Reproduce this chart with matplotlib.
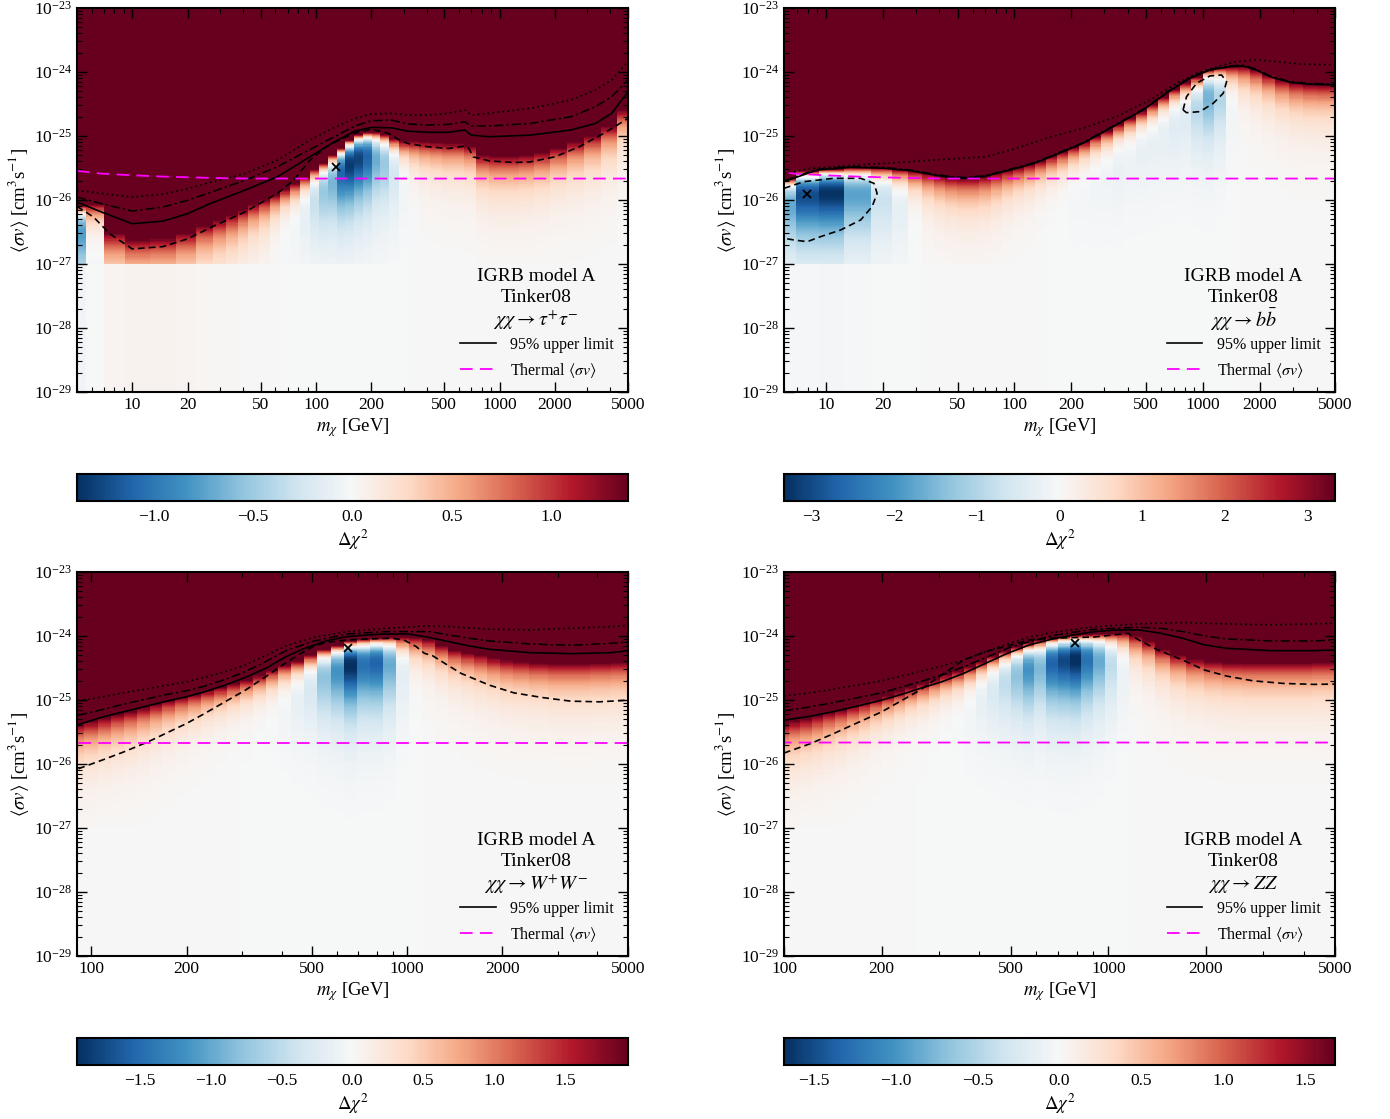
"""
Delta chi^2 maps for the IGRB cross-correlation fit, four annihilation channels
"""

import numpy as np
import matplotlib
matplotlib.use("Agg")
import matplotlib.pyplot as plt
from matplotlib.lines import Line2D
from matplotlib.ticker import (FixedLocator, FixedFormatter, FuncFormatter,
                               LogLocator, NullFormatter)

plt.rcParams['font.family'] = ['Liberation Serif', 'DejaVu Serif']
plt.rcParams['mathtext.fontset'] = 'stix'

SV_UNIT = 1e-26  # every cross section below is in units of 1e-26 cm^3 s^-1

# thermal relic cross section
thermal_m = [5, 6.8, 10, 14.7, 20, 27, 41, 5000]
thermal_sv = [2.85, 2.58, 2.43, 2.32, 2.26, 2.21, 2.16, 2.16]

# ---------------- tau+ tau- ----------------
tau_vmax = 1.385
tau_mass = [5.0, 6.2, 8.0, 10.5, 15, 20, 25, 30, 35, 40, 46, 52, 60, 68, 77, 87, 98,
            110, 123, 137, 153, 170, 190, 212, 237, 265, 300, 340, 390, 450, 520, 600,
            690, 800, 950, 1150, 1400, 1700, 2100, 2600, 3200, 4000, 4800]
tau_top = [0.80, 0.85, 0.30, 0.24, 0.25, 0.30, 0.40, 0.48, 0.58, 0.70, 0.85, 1.0, 1.2,
           1.45, 1.8, 2.3, 3.0, 3.8, 5.0, 6.5, 8.5, 10.5, 11.5, 11.5, 10.5, 9.0, 8.2, 8.2,
           8.0, 7.8, 7.6, 7.6, 7.0, 5.0, 4.8, 4.8, 5.0, 5.5, 6.5, 8.0, 10, 14, 25]
tau_best = [0.30, 0.08, -0.5, -0.5, -0.5, -0.5, -0.5, -0.5, -0.5, -0.4, -0.3, -0.2, 0.0,
            0.15, 0.25, 0.5, 0.9, 1.3, 1.8, 2.6, 3.5, 4.3, 4.6, 4.2, 3.6, 2.5, 1.2, 0.0,
            -1.0, -1.5, -2.0, -2.0, -2.0, -3.0, -4.0, -4.0, -4.0, -4.0, -4.0, -5.0, -6.0,
            -8.0, -10.0]
tau_line_m = [5.0, 6.8, 10, 14.7, 20, 27, 41, 61.5, 92.6, 126, 163, 200, 258, 316, 408,
              527, 647, 699, 880, 1470, 2450, 3330, 4080, 5000]
tau_solid_sv = [0.929, 0.648, 0.425, 0.468, 0.610, 0.896, 1.42, 2.29, 4.72, 8.11, 11.9,
                13.6, 13.4, 11.9, 11.4, 11.4, 12.4, 10.3, 9.72, 10.3, 12.4, 15.7, 22.6, 49.3]
tau_dashdot_sv = [1.11, 0.875, 0.671, 0.776, 0.987, 1.33, 2.03, 3.29, 6.15, 9.72, 14.3,
                  17.3, 17.7, 15.4, 14.8, 15.2, 16.7, 14.3, 14.3, 15.7, 20.0, 28.7, 41.2, 75.2]
tau_dotted_sv = [1.42, 1.26, 1.11, 1.23, 1.50, 1.91, 2.58, 4.18, 8.61, 13.6, 18.8, 22.0,
                 22.6, 21.2, 21.2, 22.6, 25.4, 21.2, 22.6, 27.0, 36.5, 52.4, 75.2, 146]
tau_dashed_m = [5.0, 6.15, 7.55, 10, 14.7, 20, 27, 41, 61.5, 75.5, 92.6, 114, 139, 171,
                200, 245, 286, 316, 408, 527, 647, 681, 717, 880, 1200, 1470, 2000, 2710,
                3690, 5000]
tau_dashed_sv = [0.795, 0.541, 0.296, 0.172, 0.187, 0.247, 0.377, 0.648, 1.26, 2.03, 4.18,
                 6.77, 9.15, 11.6, 12.7, 11.2, 8.61, 7.64, 6.77, 6.38, 6.94, 6.38, 4.72,
                 4.08, 3.85, 3.94, 4.72, 6.77, 11.0, 18.8]
tau_bestfit = (129, 3.3)

# ---------------- b bbar ----------------
bb_vmax = 3.33
bb_mass = [6.0, 8.0, 10.5, 15, 20, 25, 30, 35, 40, 46, 53, 60, 70, 80, 92, 105, 120, 138,
           158, 180, 205, 235, 270, 310, 355, 410, 470, 540, 620, 710, 810, 930, 1070,
           1230, 1420, 1650, 1900, 2200, 2600, 3100, 3700, 4400]
bb_top = [2.2, 2.8, 3.0, 3.2, 3.2, 3.0, 2.8, 2.6, 2.4, 2.25, 2.2, 2.2, 2.35, 2.6, 2.9,
          3.2, 3.6, 4.1, 4.8, 5.6, 6.7, 8.0, 9.8, 12, 15, 19, 24, 31, 41, 53, 68, 82,
          108, 118, 122, 122, 108, 90, 76, 68, 64, 63]
bb_best = [0.81, 1.14, 1.24, 1.19, 0.95, 0.67, 0.2, -0.3, -0.6, -0.8, -1.0, -1.0, -1.0,
           -0.8, -0.5, -0.3, -0.2, 0.0, 0.2, 0.4, 0.8, 1.0, 1.5, 2.0, 3.0, 3.5, 5.0, 6.5,
           9.0, 13, 17, 26, 39, 38, 18, -5, -15, -20, -25, -30, -30, -30]
bb_line_m = [6.0, 9.0, 13.5, 20.3, 28, 37.4, 45.8, 54, 68.9, 103, 127, 154, 231, 347,
             481, 639, 850, 1086, 1385, 1630, 1918, 2256, 2878, 3672, 5000]
bb_solid_sv = [1.93, 2.94, 3.24, 3.13, 2.87, 2.46, 2.26, 2.18, 2.32, 3.13, 3.74, 4.65,
               7.69, 14.9, 25.5, 46.5, 79.8, 107, 121, 124, 107, 84.5, 69.0, 64.3, 62.7]
bb_dashdot_sv = [2.0, 3.02, 3.33, 3.22, 2.95, 2.53, 2.33, 2.25, 2.39, 3.22, 3.85, 4.79,
                 7.9, 15.3, 26.2, 47.8, 82, 110, 124.5, 127.7, 110.5, 87, 71, 66.2, 64.5]
bb_dotted_m = [6.0, 8.2, 14, 24, 41.2, 70.5, 100, 154, 231, 347, 522, 723, 922, 1177,
               1503, 1918, 2447, 3252, 5000]
bb_dotted_sv = [2.58, 3.10, 3.49, 3.85, 4.29, 4.72, 6.3, 9.55, 13.2, 20.0, 36.3, 66.1,
                95.5, 120, 145, 155, 145, 133, 129]
bb_dashed_low_m = [6.0, 7.66, 11.0, 15.3, 18.0, 18.7, 17.6, 15.3, 12.0, 9.37, 7.97, 6.78, 6.0]
bb_dashed_low_sv = [1.52, 1.93, 2.18, 2.18, 1.82, 1.27, 0.787, 0.487, 0.340, 0.267,
                    0.223, 0.237, 0.252]
bb_dashed_high_m = [783, 817, 923, 1086, 1253, 1332, 1279, 1132, 962, 817, 783]
bb_dashed_high_sv = [25.5, 41.1, 66.5, 86.6, 89.7, 70.5, 46.5, 32.4, 24.0, 23.1, 25.5]
bb_bestfit = (7.97, 1.23)

# ---------------- W+ W- ----------------
ww_vmax = 1.94
ww_mass = [90, 100, 110, 121, 133, 146, 160, 176, 193, 212, 233, 256, 281, 309, 340, 373,
           410, 450, 495, 545, 600, 660, 725, 800, 880, 965, 1060, 1165, 1280, 1410, 1550,
           1700, 1870, 2060, 2270, 2600, 3000, 3500, 4100, 4750]
ww_top = [4.2, 4.6, 5.2, 5.9, 6.6, 7.5, 8.5, 9.7, 11, 12.3, 14, 15.6, 17.8, 20.5, 24, 29,
          35, 41, 50, 62, 72, 82, 88, 92, 95, 96, 94, 86, 72, 60, 54, 50, 45, 42, 40, 38,
          37, 37, 38, 39]
ww_best = [-4, -4, -4, -4, -4, -3.5, -3, -2.5, -2, -1.5, -1, -0.5, 0, 0.5, 1.5, 2.5, 5,
           8.7, 13.5, 21.6, 27.4, 34, 34.8, 36.8, 34.8, 22, 3, -5, -10, -12, -15, -20,
           -20, -25, -25, -25, -30, -30, -30, -30]
ww_solid_m = [90.9, 108.7, 126.1, 146.2, 169.6, 199.7, 228.2, 264.7, 307, 356, 413, 465,
              508, 556, 645, 748, 867, 1006, 1167, 1353, 1570, 1821, 2450, 3296, 4436, 5000]
ww_solid_sv = [4.12, 5.43, 6.51, 7.80, 9.34, 11.2, 13.4, 17.0, 22.5, 31.1, 47.4, 61.8,
               72.3, 84.5, 97.6, 103.7, 107.5, 107.5, 95.3, 81.5, 69.7, 61.8, 54.8, 52.8,
               54.8, 58.9]
ww_dashdot_m = [90.9, 108.7, 126.1, 169.6, 199.7, 228.2, 264.7, 307, 356, 413, 508, 645,
                867, 1167, 1353, 1570, 1821, 2450, 3296, 4436, 5000]
ww_dashdot_sv = [5.77, 7.08, 8.58, 11.9, 13.9, 16.4, 20.9, 27.6, 39.6, 58.9, 83.5, 107.5,
                 116.9, 116.9, 103.7, 91.9, 83.5, 74.9, 71.4, 76.7, 81.5]
ww_dotted_m = [90.9, 108.7, 126.1, 169.6, 199.7, 228.2, 264.7, 307, 356, 413, 508, 645,
               867, 1167, 1353, 1821, 2450, 3296, 4436, 5000]
ww_dotted_sv = [9.68, 11.2, 12.9, 16.6, 19.2, 22.5, 27.6, 35.1, 49.2, 69.7, 95.3, 116.9,
                131.9, 143.5, 140, 127.2, 124.2, 131.9, 140, 147]
ww_dashed_m = [90.9, 108.7, 126.1, 150.6, 169.6, 199.7, 228.2, 264.7, 307, 356, 413, 465,
               508, 556, 645, 748, 893, 976, 1068, 1133, 1202, 1314, 1480, 1821, 2176,
               2679, 3296, 4057, 5000]
ww_dashed_sv = [0.841, 1.16, 1.53, 2.20, 2.91, 4.27, 6.13, 9.34, 14.2, 23.0, 38.2, 54.8,
                69.7, 79.6, 86.6, 89.7, 91.9, 86.6, 68.0, 53.5, 49.2, 37.3, 26.0, 17.0,
                12.9, 10.9, 9.57, 9.34, 9.92]
ww_bestfit = (648, 65)

# ---------------- Z Z ----------------
zz_vmax = 1.68
zz_mass = [100, 108, 117, 127, 138, 150, 163, 177, 192, 209, 227, 247, 268, 291, 316, 344,
           374, 406, 441, 480, 522, 567, 617, 670, 730, 793, 862, 937, 1020, 1110, 1210,
           1330, 1470, 1640, 1850, 2100, 2400, 2800, 3300, 3900, 4600]
zz_top = [4.2, 4.6, 5.0, 5.6, 6.3, 7.0, 8.0, 9.0, 10.3, 11.8, 13.5, 15.5, 18, 21, 24.5,
          28, 33, 40, 48, 58, 68, 77, 85, 92, 98, 102, 105, 108, 110, 112, 100, 82, 62,
          50, 43, 40, 38, 38, 38, 38, 39]
zz_best = [-4, -4, -4, -4, -3.5, -3, -2.5, -2, -1.5, -1, -0.5, 0, 0.3, 0.8, 1.5, 2.5,
           4.8, 8.5, 12.7, 17.9, 23.7, 29.3, 30.4, 36.8, 40, 42.3, 41.5, 39.6, 34, 21.2,
           -5, -12, -15, -18, -20, -25, -25, -30, -30, -30, -30]
zz_solid_m = [100, 120.5, 140.8, 164.6, 200.1, 231.7, 262.4, 306.5, 358.2, 418.4, 488.9,
              571.2, 667.3, 779.6, 910.9, 1064, 1243, 1453, 1697, 1983, 2317, 3162, 4316, 5000]
zz_solid_sv = [4.82, 5.57, 6.51, 7.80, 9.92, 12.3, 15.1, 19.2, 26.0, 37.3, 53.5, 72.3,
               88.7, 103.7, 116.9, 124.2, 124.2, 110.1, 91.9, 72.3, 64.1, 58.9, 58.9, 60.3]
zz_dashdot_m = [100, 120.5, 140.8, 200.1, 262.4, 306.5, 358.2, 418.4, 488.9, 571.2, 667.3,
                779.6, 910.9, 1243, 1453, 1697, 1983, 2317, 3162, 4316, 5000]
zz_dashdot_sv = [6.75, 7.80, 9.01, 12.9, 19.2, 24.5, 33.0, 45.7, 64.1, 81.5, 100, 114.2,
                 127.2, 136.8, 131.9, 116.9, 100, 89.7, 83.5, 83.5, 86.6]
zz_dotted_m = [100, 120.5, 140.8, 200.1, 262.4, 306.5, 358.2, 418.4, 488.9, 571.2, 667.3,
               910.9, 1243, 1697, 2317, 3162, 4316, 5000]
zz_dotted_sv = [11.5, 12.9, 14.6, 19.9, 27.6, 33.8, 42.0, 56.8, 74.9, 95.3, 112.8, 140,
                154.2, 161.9, 154.2, 148.8, 154.2, 158]
zz_dashed_m = [100, 120.5, 140.8, 164.6, 200.1, 231.7, 262.4, 306.5, 358.2, 418.4, 488.9,
               571.2, 667.3, 779.6, 910.9, 1150, 1243, 1408, 1697, 1983, 2317, 2793, 3472,
               4316, 5000]
zz_dashed_sv = [1.48, 2.07, 2.91, 4.17, 6.51, 9.92, 14.2, 24.5, 42.0, 56.8, 69.7, 86.6,
                91.9, 94.2, 96.5, 110.1, 86.6, 61.8, 42.0, 29.3, 23.6, 19.9, 18.1, 17.5, 17.7]
zz_bestfit = (792, 77)

# cross-section grid: one coarse cell below 1e-27, fine above
SV_EDGES = np.concatenate([[1e-29], np.geomspace(1e-27, 1e-23, 241)])

LINE_STYLES = {
    'solid': dict(ls='-', lw=1.2),
    'dashdot': dict(ls=(0, (6, 2, 1.5, 2)), lw=1.1),
    'dotted': dict(ls=(0, (1, 2)), lw=1.2),
    'dashed': dict(ls=(0, (4, 2.5)), lw=1.2),
}
THERMAL_STYLE = dict(color='#ff00ff', ls=(0, (7, 4)), lw=1.3)

MASS_TICKS_LOW = [10, 20, 50, 100, 200, 500, 1000, 2000, 5000]
MASS_TICKS_HIGH = [100, 200, 500, 1000, 2000, 5000]

PANELS = [
    dict(rect=[0.0554, 0.6497, 0.3964, 0.3432], crect=[0.0554, 0.5523, 0.3964, 0.0241],
         xlim=(5, 5000), xticks=MASS_TICKS_LOW, vmax=tau_vmax,
         mass=tau_mass, top=tau_top, best=tau_best, bestfit=tau_bestfit,
         channel=r'$\chi\chi \rightarrow \tau^{+}\tau^{-}$',
         cticks=[-1.0, -0.5, 0.0, 0.5, 1.0], cfmt='{:.1f}',
         lines=[(tau_line_m, tau_dotted_sv, 'dotted'), (tau_line_m, tau_dashdot_sv, 'dashdot'),
                (tau_line_m, tau_solid_sv, 'solid'), (tau_dashed_m, tau_dashed_sv, 'dashed')]),
    dict(rect=[0.5640, 0.6497, 0.3964, 0.3432], crect=[0.5640, 0.5523, 0.3964, 0.0241],
         xlim=(6, 5000), xticks=MASS_TICKS_LOW, vmax=bb_vmax,
         mass=bb_mass, top=bb_top, best=bb_best, bestfit=bb_bestfit,
         channel=r'$\chi\chi \rightarrow b\bar{b}$',
         cticks=[-3, -2, -1, 0, 1, 2, 3], cfmt='{:.0f}',
         lines=[(bb_dotted_m, bb_dotted_sv, 'dotted'), (bb_line_m, bb_dashdot_sv, 'dashdot'),
                (bb_line_m, bb_solid_sv, 'solid'),
                (bb_dashed_low_m, bb_dashed_low_sv, 'dashed'),
                (bb_dashed_high_m, bb_dashed_high_sv, 'dashed')]),
    dict(rect=[0.0554, 0.1457, 0.3964, 0.3432], crect=[0.0554, 0.0483, 0.3964, 0.0241],
         xlim=(90, 5000), xticks=MASS_TICKS_HIGH, vmax=ww_vmax,
         mass=ww_mass, top=ww_top, best=ww_best, bestfit=ww_bestfit,
         channel=r'$\chi\chi \rightarrow W^{+}W^{-}$',
         cticks=[-1.5, -1.0, -0.5, 0.0, 0.5, 1.0, 1.5], cfmt='{:.1f}',
         lines=[(ww_dotted_m, ww_dotted_sv, 'dotted'), (ww_dashdot_m, ww_dashdot_sv, 'dashdot'),
                (ww_solid_m, ww_solid_sv, 'solid'), (ww_dashed_m, ww_dashed_sv, 'dashed')]),
    dict(rect=[0.5640, 0.1457, 0.3964, 0.3432], crect=[0.5640, 0.0483, 0.3964, 0.0241],
         xlim=(100, 5000), xticks=MASS_TICKS_HIGH, vmax=zz_vmax,
         mass=zz_mass, top=zz_top, best=zz_best, bestfit=zz_bestfit,
         channel=r'$\chi\chi \rightarrow ZZ$',
         cticks=[-1.5, -1.0, -0.5, 0.0, 0.5, 1.0, 1.5], cfmt='{:.1f}',
         lines=[(zz_dotted_m, zz_dotted_sv, 'dotted'), (zz_dashdot_m, zz_dashdot_sv, 'dashdot'),
                (zz_solid_m, zz_solid_sv, 'solid'), (zz_dashed_m, zz_dashed_sv, 'dashed')]),
]


def delta_chi2_map(mass, top, best, vmax, xlim):
    """Quadratic profile in <sigma v> for each mass column.

    'top' is where the column reaches the colour-bar maximum, 'best' the
    best-fit cross section of that column (negative = no preference).
    """
    mass = np.asarray(mass, float)
    top = np.asarray(top, float)
    best = np.asarray(best, float)
    x_edges = np.concatenate([[xlim[0]], np.sqrt(mass[:-1] * mass[1:]), [xlim[1]]])
    sv = (np.sqrt(SV_EDGES[:-1] * SV_EDGES[1:]) / SV_UNIT)[:, None]
    w2 = (top ** 2 - 2 * top * best) / vmax
    return x_edges, (sv ** 2 - 2 * sv * best) / w2


def draw_panel(fig, p):
    ax = fig.add_axes(p['rect'])
    vmax = p['vmax']
    x_edges, dchi2 = delta_chi2_map(p['mass'], p['top'], p['best'], vmax, p['xlim'])
    mesh = ax.pcolormesh(x_edges, SV_EDGES, dchi2, cmap='RdBu_r',
                         vmin=-vmax, vmax=vmax, shading='flat')

    for m, s, style in p['lines']:
        ax.plot(m, np.asarray(s) * SV_UNIT, color='k', **LINE_STYLES[style])
    ax.plot(thermal_m, np.asarray(thermal_sv) * SV_UNIT, **THERMAL_STYLE)
    bx, by = p['bestfit']
    ax.plot([bx], [by * SV_UNIT], ls='none', marker='x', color='k', ms=6, mew=1.3)

    ax.set_xscale('log')
    ax.set_yscale('log')
    ax.set_xlim(p['xlim'])
    ax.set_ylim(1e-29, 1e-23)
    ax.xaxis.set_major_locator(FixedLocator(p['xticks']))
    ax.xaxis.set_major_formatter(FixedFormatter([str(t) for t in p['xticks']]))
    ax.xaxis.set_minor_locator(LogLocator(base=10, subs=np.arange(1, 10), numticks=50))
    ax.xaxis.set_minor_formatter(NullFormatter())
    ax.yaxis.set_major_locator(LogLocator(base=10, numticks=10))
    ax.yaxis.set_minor_locator(LogLocator(base=10, subs=np.arange(2, 10), numticks=50))
    ax.yaxis.set_minor_formatter(NullFormatter())
    ax.tick_params(which='both', direction='in', top=True, right=True, labelsize=12.5)
    ax.tick_params(which='major', length=7, width=1.0)
    ax.tick_params(which='minor', length=3.5, width=0.8)
    for sp in ax.spines.values():
        sp.set_linewidth(1.5)

    ax.set_xlabel(r'$m_\chi$ [GeV]', fontsize=13.5, labelpad=2)
    ax.set_ylabel(r'$\langle \sigma v \rangle$ [cm$^3$s$^{-1}$]', fontsize=13.5, labelpad=2)

    tx = 0.833
    ax.text(tx, 0.300, 'IGRB model A', transform=ax.transAxes, ha='center', va='center', fontsize=14)
    ax.text(tx, 0.247, 'Tinker08', transform=ax.transAxes, ha='center', va='center', fontsize=14)
    ax.text(tx, 0.187, p['channel'], transform=ax.transAxes, ha='center', va='center', fontsize=14.5)

    handles = [Line2D([], [], color='k', lw=1.2),
               Line2D([], [], **THERMAL_STYLE)]
    ax.legend(handles, ['95% upper limit', r'Thermal $\langle\sigma v\rangle$'],
              loc='lower right', bbox_to_anchor=(1.0, -0.005), frameon=False,
              fontsize=11.5, handlelength=2.2, handletextpad=0.9, labelspacing=0.5)

    cax = fig.add_axes(p['crect'])
    fmt = p['cfmt']
    cbar = fig.colorbar(mesh, cax=cax, orientation='horizontal', ticks=p['cticks'],
                        format=FuncFormatter(lambda v, _: fmt.format(v).replace('-', '\u2212')))
    cbar.outline.set_linewidth(1.5)
    cbar.ax.tick_params(length=0, pad=6, labelsize=12.5)
    cbar.set_label(r'$\Delta\chi^2$', fontsize=13.5, labelpad=2)
    return ax


fig = plt.figure(figsize=(13.9, 11.19), dpi=100)
for panel in PANELS:
    draw_panel(fig, panel)
fig.savefig('out.png', dpi=100)
